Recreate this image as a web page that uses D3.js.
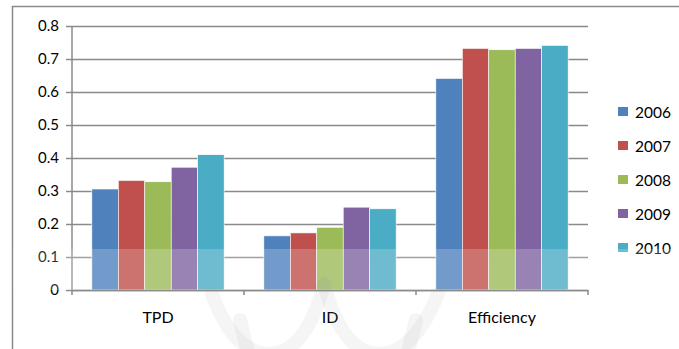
<!DOCTYPE html>
<html>
<head>
<meta charset="utf-8">
<script src="https://cdn.jsdelivr.net/npm/d3@7"></script>
<style>
  html, body { margin: 0; padding: 0; background: #fff; }
  svg { display: block; }
  text { font-family: Lato, "Open Sans", sans-serif; fill: #000; }
</style>
</head>
<body>
<svg id="chart" width="679" height="349"></svg>
<script>
// Categories, series and axis ticks
const categories = ["TPD", "ID", "Efficiency"];
const years = ["2006", "2007", "2008", "2009", "2010"];
const values2006 = [0.306, 0.164, 0.641];
const values2007 = [0.332, 0.173, 0.732];
const values2008 = [0.328, 0.190, 0.728];
const values2009 = [0.372, 0.251, 0.732];
const values2010 = [0.410, 0.246, 0.741];
const yTicks = [0, 0.1, 0.2, 0.3, 0.4, 0.5, 0.6, 0.7, 0.8];
const colors = ["#4F81BD", "#C0504D", "#9BBB59", "#8064A2", "#4BACC6"];

const seriesValues = [values2006, values2007, values2008, values2009, values2010];

const svg = d3.select("#chart");
const W = 679, H = 349;

// Chart frame
svg.append("rect")
  .attr("x", 12.5).attr("y", 6.5)
  .attr("width", W + 20).attr("height", H + 20)
  .attr("fill", "#fff").attr("stroke", "#8a8a8a").attr("stroke-width", 1.5);

const plot = { left: 72, right: 588, top: 26, bottom: 290 };

const x = d3.scaleBand().domain(categories).range([plot.left, plot.right]).padding(0);
const y = d3.scaleLinear().domain([0, 0.8]).range([plot.bottom, plot.top]);

// Bars inside each category: 5 bars with a 150% gap width
const gapRatio = 1.5;
const inner = d3.scaleBand()
  .domain(years)
  .range([0, x.bandwidth()])
  .paddingInner(0)
  .paddingOuter(gapRatio / 2);

// Gridlines and y ticks
const yAxis = d3.axisLeft(y)
  .tickValues(yTicks)
  .tickSize(-(plot.right - plot.left))
  .tickPadding(13)
  .tickFormat(d => d === 0 ? "0" : d3.format(".1f")(d));

const gy = svg.append("g")
  .attr("transform", `translate(${plot.left},0)`)
  .call(yAxis);
gy.select(".domain").remove();
gy.selectAll(".tick line")
  .attr("x1", -6)
  .attr("stroke", "#8a8a8a").attr("stroke-width", 1.5);
gy.selectAll(".tick text")
  .attr("font-size", 15)
  .attr("font-family", "Lato, sans-serif")
  .attr("fill", "#000");

// Bars
const groups = svg.append("g").selectAll("g")
  .data(years)
  .join("g")
  .attr("fill", (d, i) => colors[i]);

groups.selectAll("rect")
  .data((yr, si) => categories.map((c, ci) => ({ c, yr, v: seriesValues[si][ci] })))
  .join("rect")
  .attr("x", d => x(d.c) + inner(d.yr))
  .attr("width", inner.bandwidth())
  .attr("y", d => y(d.v))
  .attr("height", d => y(0) - y(d.v))
  .attr("stroke", "#fff")
  .attr("stroke-width", 0.6);

// Y axis line
svg.append("line")
  .attr("x1", plot.left).attr("x2", plot.left)
  .attr("y1", plot.top).attr("y2", plot.bottom)
  .attr("stroke", "#8a8a8a").attr("stroke-width", 1.5);

// X axis with category ticks
const xAxis = d3.axisBottom(x).tickSize(0).tickPadding(22);
const gx = svg.append("g")
  .attr("transform", `translate(0,${plot.bottom})`)
  .call(xAxis);
gx.select(".domain").attr("stroke", "#8a8a8a").attr("stroke-width", 1.5);
gx.selectAll(".tick text")
  .attr("font-size", 16)
  .attr("font-family", "Lato, sans-serif")
  .attr("fill", "#000");

const boundaries = [plot.left].concat(categories.map(c => x(c) + x.bandwidth()));
svg.append("g").selectAll("line")
  .data(boundaries)
  .join("line")
  .attr("x1", d => d).attr("x2", d => d)
  .attr("y1", plot.bottom).attr("y2", plot.bottom + 5)
  .attr("stroke", "#8a8a8a").attr("stroke-width", 1.5);

// Legend
const legend = svg.append("g").selectAll("g")
  .data(years)
  .join("g")
  .attr("transform", (d, i) => `translate(618,${112 + i * 34})`);
legend.append("rect")
  .attr("x", 0).attr("y", -5).attr("width", 10).attr("height", 9)
  .attr("fill", (d, i) => colors[i]);
legend.append("text")
  .attr("x", 17).attr("y", 0).attr("dy", "0.36em")
  .attr("font-size", 15.5)
  .text(d => d);

// Pale band across the lower part of the chart
svg.append("rect")
  .attr("x", 13).attr("y", 249)
  .attr("width", W).attr("height", 41)
  .attr("fill", "#fff").attr("opacity", 0.2);

// Faint background emblem strokes
const emblem = svg.append("g")
  .attr("fill", "none")
  .attr("stroke", "#9a9a9a")
  .attr("stroke-opacity", 0.1)
  .attr("stroke-width", 14)
  .attr("stroke-linecap", "round");
emblem.append("path").attr("d", "M212,294 Q234,354 270,354 Q306,352 324,284");
emblem.append("path").attr("d", "M324,284 Q342,352 378,354 Q414,354 438,294");
emblem.append("path").attr("d", "M240,320 L248,352");
emblem.append("path").attr("d", "M416,320 L408,352");
</script>
</body>
</html>
